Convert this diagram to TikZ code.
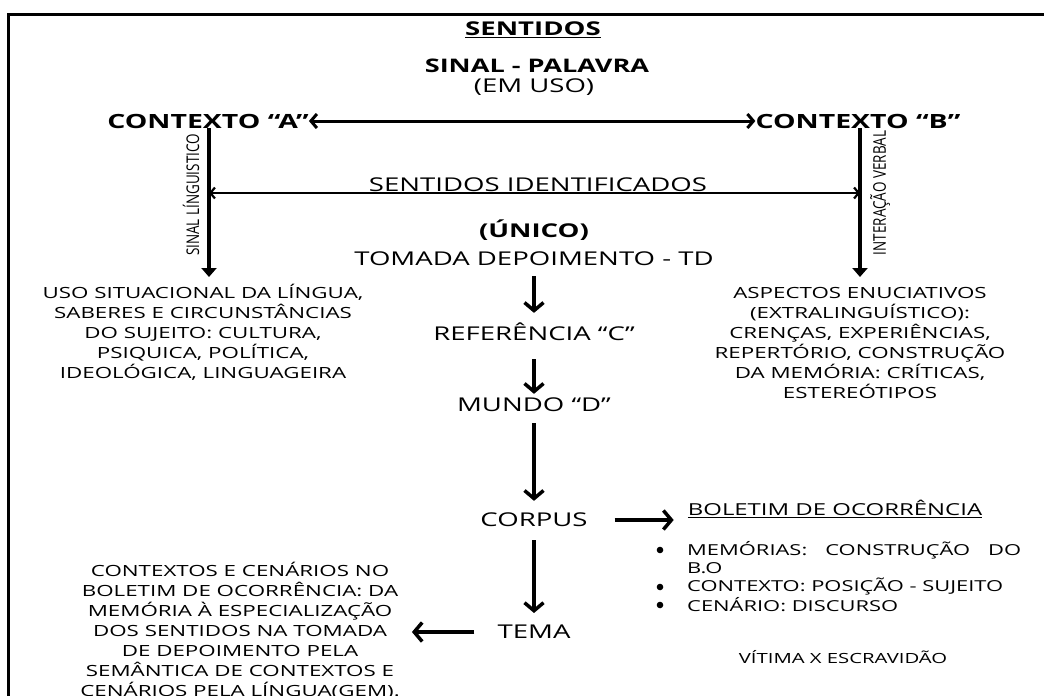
\documentclass[tikz,border=0pt]{standalone}
\usepackage{fontspec}
\setmainfont{Open Sans}[FakeStretch=1.45]
\newfontfamily\rotfont{Open Sans}[FakeStretch=0.77]
\usetikzlibrary{arrows.meta, positioning}

\begin{document}
\begin{tikzpicture}[x=1pt, y=-1pt,
		txt/.style={inner sep=0pt, align=center, font=\fontsize{#1}{20}\selectfont},
		bld/.style={inner sep=0pt, align=center, font=\fontsize{#1}{20}\selectfont\bfseries},
		rot/.style={inner sep=0pt, rotate=90, font=\rotfont\fontsize{17.5}{20}\selectfont},
		downarrow/.style={line width=3.5pt, -{Straight Barb[length=8pt, width=19pt]}},
		sidearrow/.style={line width=3.5pt, -{Triangle[length=9pt, width=15pt]}},
		toparrow/.style={line width=3pt, {Straight Barb[length=6pt, width=14pt]}-{Straight Barb[length=6pt, width=14pt]}},
		midarrow/.style={line width=2.2pt, {Straight Barb[length=4.5pt, width=11pt]}-{Straight Barb[length=4.5pt, width=11pt]}}]
		\useasboundingbox (0,0) rectangle (1044,696);
		\draw[line width=3pt] (8,720) -- (8,14) -- (1070,14);
		\node[bld=19] (sentidos) at (533,30) {\underline{SENTIDOS}};
		\node[bld=18.7] (sinal) at (537,66) {SINAL - PALAVRA};
		\node[txt=19] (emuso) at (534,87) {(EM USO)};
		\node[bld=19.6] (ctxA) at (208,121) {CONTEXTO “A”};
		\node[bld=19.6] (ctxB) at (858,121) {CONTEXTO “B”};
		\draw[toparrow] (ctxA.east) -- (ctxB.west);
		\node[txt=15.4] (usoA) at (203,332) {USO SITUACIONAL DA LÍNGUA,\\SABERES E CIRCUNSTÂNCIAS\\DO SUJEITO: CULTURA,\\PSIQUICA, POLÍTICA,\\IDEOLÓGICA, LINGUAGEIRA};
		\node[txt=15.4] (aspB) at (860,343) {ASPECTOS ENUCIATIVOS\\(EXTRALINGUÍSTICO):\\CRENÇAS, EXPERIÊNCIAS,\\REPERTÓRIO, CONSTRUÇÃO\\DA MEMÓRIA: CRÍTICAS,\\ESTEREÓTIPOS};
		\coordinate (endA) at (209,277);
		\coordinate (endB) at (860,277);
		\draw[sidearrow] (ctxA.south -| endA) -- (endA);
		\draw[sidearrow] (ctxB.south -| endB) -- (endB);
		\node[rot] (sinalL) at (191,195) {SINAL LÍNGUISTICO};
		\node[rot] (interB) at (880,193) {INTERAÇÃO VERBAL};
		\node[txt=19] (ident) at (538,185) {SENTIDOS IDENTIFICADOS};
		\coordinate (midA) at (209,193);
		\coordinate (midB) at (860,193);
		\draw[midarrow] (midA) -- (midB);
		\node[bld=19] (unico) at (534,230) {(ÚNICO)};
		\node[txt=19] (td) at (534,259) {TOMADA DEPOIMENTO - TD};
		\node[txt=19] (ref) at (534,332) {REFERÊNCIA “C”};
		\node[txt=19] (mundo) at (534,405) {MUNDO “D”};
		\node[txt=19] (corpus) at (534,520) {CORPUS};
		\node[txt=19] (tema) at (534,632) {TEMA};
		\foreach \a/\b/\s/\e in {td/ref/10/10, ref/mundo/18/4, mundo/corpus/11/12, corpus/tema/13/12}
		{\draw[downarrow, shorten <=\s pt, shorten >=\e pt] (\a.south) -- (\b.north);}
		\node[txt=16.5] (bol) at (835,509) {\underline{BOLETIM DE OCORRÊNCIA}};
		\draw[downarrow, shorten <=27pt, shorten >=14pt] (corpus.east) -- (corpus.east -| bol.west);
		\node[txt=15.1, anchor=west] (mem) at (687,550) {\makebox[334pt][s]{MEMÓRIAS: CONSTRUÇÃO DO}};
		\node[txt=15.1, anchor=west] (bo) at (687,568) {B.O};
		\node[txt=15.1, anchor=west] (pos) at (687,587) {CONTEXTO: POSIÇÃO - SUJEITO};
		\node[txt=15.1, anchor=west] (disc) at (687,605) {CENÁRIO: DISCURSO};
		\foreach \n in {mem, pos, disc}
		{\fill ([xshift=-27pt]\n.west) circle (3.3pt);}
		\node[txt=14] (vitima) at (843,657) {VÍTIMA X ESCRAVIDÃO};
		\node[txt=15.4] (cenA) at (240,631) {CONTEXTOS E CENÁRIOS NO\\BOLETIM DE OCORRÊNCIA: DA\\MEMÓRIA À ESPECIALIZAÇÃO\\DOS SENTIDOS NA TOMADA\\DE DEPOIMENTO PELA\\SEMÂNTICA DE CONTEXTOS E\\CENÁRIOS PELA LÍNGUA(GEM).};
		\draw[downarrow, shorten <=23pt, shorten >=12pt] (tema.west) -- (tema.west -| cenA.east);
	\end{tikzpicture}
\end{document}
